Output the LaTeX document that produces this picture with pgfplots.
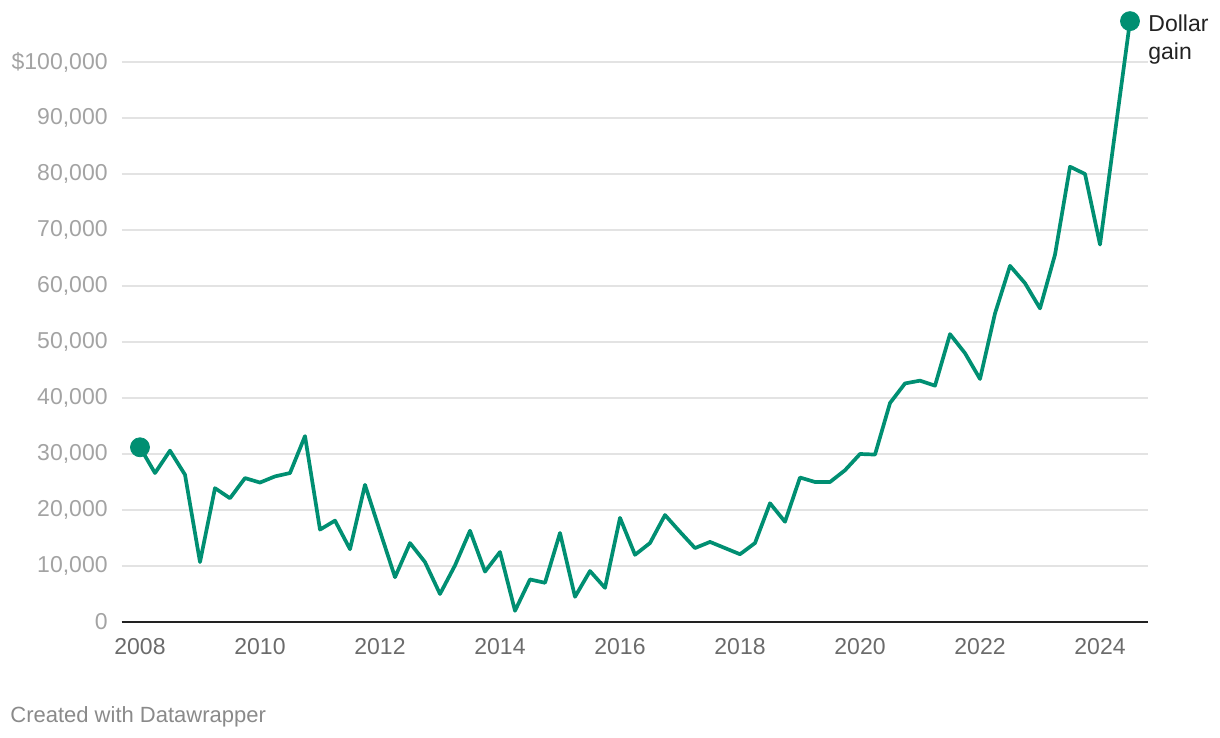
\documentclass[border=0pt]{standalone}
\usepackage{pgfplots}
\pgfplotsset{compat=1.18}
\usepackage{pgfplotstable}
\usepackage{fontspec}
\setmainfont{Liberation Sans}
\definecolor{linegreen}{HTML}{008F72}
\definecolor{ylab}{HTML}{A3A3A3}
\definecolor{xlab}{HTML}{6B6B6B}
\definecolor{gridc}{HTML}{E3E3E3}
\definecolor{foot}{HTML}{8A8A8A}
\definecolor{textdark}{HTML}{222222}
\pgfplotstableread{
year value
2008.00 31200
2008.25 26600
2008.50 30600
2008.75 26300
2009.00 10700
2009.25 23900
2009.50 22100
2009.75 25700
2010.00 24900
2010.25 26000
2010.50 26600
2010.75 33200
2011.00 16500
2011.25 18100
2011.50 13000
2011.75 24500
2012.00 16200
2012.25 8000
2012.50 14100
2012.75 10700
2013.00 5000
2013.25 10100
2013.50 16300
2013.75 9000
2014.00 12500
2014.25 2000
2014.50 7600
2014.75 7000
2015.00 15900
2015.25 4500
2015.50 9100
2015.75 6100
2016.00 18600
2016.25 12000
2016.50 14100
2016.75 19100
2017.00 16100
2017.25 13200
2017.50 14300
2017.75 13200
2018.00 12100
2018.25 14100
2018.50 21200
2018.75 17900
2019.00 25800
2019.25 25000
2019.50 25000
2019.75 27100
2020.00 30000
2020.25 29900
2020.50 39100
2020.75 42600
2021.00 43100
2021.25 42200
2021.50 51400
2021.75 48000
2022.00 43400
2022.25 55100
2022.50 63600
2022.75 60500
2023.00 56000
2023.25 65600
2023.50 81300
2023.75 80000
2024.00 67400
2024.25 87400
2024.50 107300
}\datatable
\begin{document}
\begin{tikzpicture}
\useasboundingbox (-60.85pt,-58pt) rectangle (549.15pt,311pt);
\begin{axis}[
  at={(0,0)}, anchor=south west,
  scale only axis, width=513.15pt, height=280pt,
  xmin=2007.695, xmax=2024.8, ymin=0, ymax=100000,
  clip=false,
  axis x line*=bottom, axis y line*=left,
  x axis line style={draw=textdark, line width=1pt, -},
  y axis line style={draw=none},
  ymajorgrids, grid style={draw=gridc, line width=0.6pt},
  major tick length=0pt,
  ytick={0,10000,20000,30000,40000,50000,60000,70000,80000,90000,100000},
  yticklabels={0,{10,000},{20,000},{30,000},{40,000},{50,000},{60,000},{70,000},{80,000},{90,000},{\$100,000}},
  xtick={2008,2010,2012,2014,2016,2018,2020,2022,2024},
  xticklabels={2008,2010,2012,2014,2016,2018,2020,2022,2024},
  tick label style={font=\fontsize{11.5}{13}\selectfont},
  yticklabel style={text=ylab, anchor=east, inner sep=0pt, xshift=-6.85pt},
  xticklabel style={text=xlab, anchor=north, inner sep=0pt, yshift=-8pt},
  scaled y ticks=false,
]
\addplot[linegreen, line width=1.85pt, line join=round, line cap=round, mark=none] table[x=year, y=value]{\datatable};
\addplot[only marks, mark=*, mark size=4.75pt, color=linegreen] coordinates {(2008,31200) (2024.5,107300)};
\node[anchor=base west, inner sep=0pt, font=\fontsize{11.5}{13.5}\selectfont, text=textdark] at (axis cs:2024.8,105500) {Dollar};
\node[anchor=base west, inner sep=0pt, font=\fontsize{11.5}{13.5}\selectfont, text=textdark] at (axis cs:2024.8,100500) {gain};
\end{axis}
\node[anchor=base west, inner sep=0pt, font=\fontsize{11}{13}\selectfont, text=foot] at (-55.85pt,-50.25pt) {Created with Datawrapper};
\end{tikzpicture}
\end{document}
